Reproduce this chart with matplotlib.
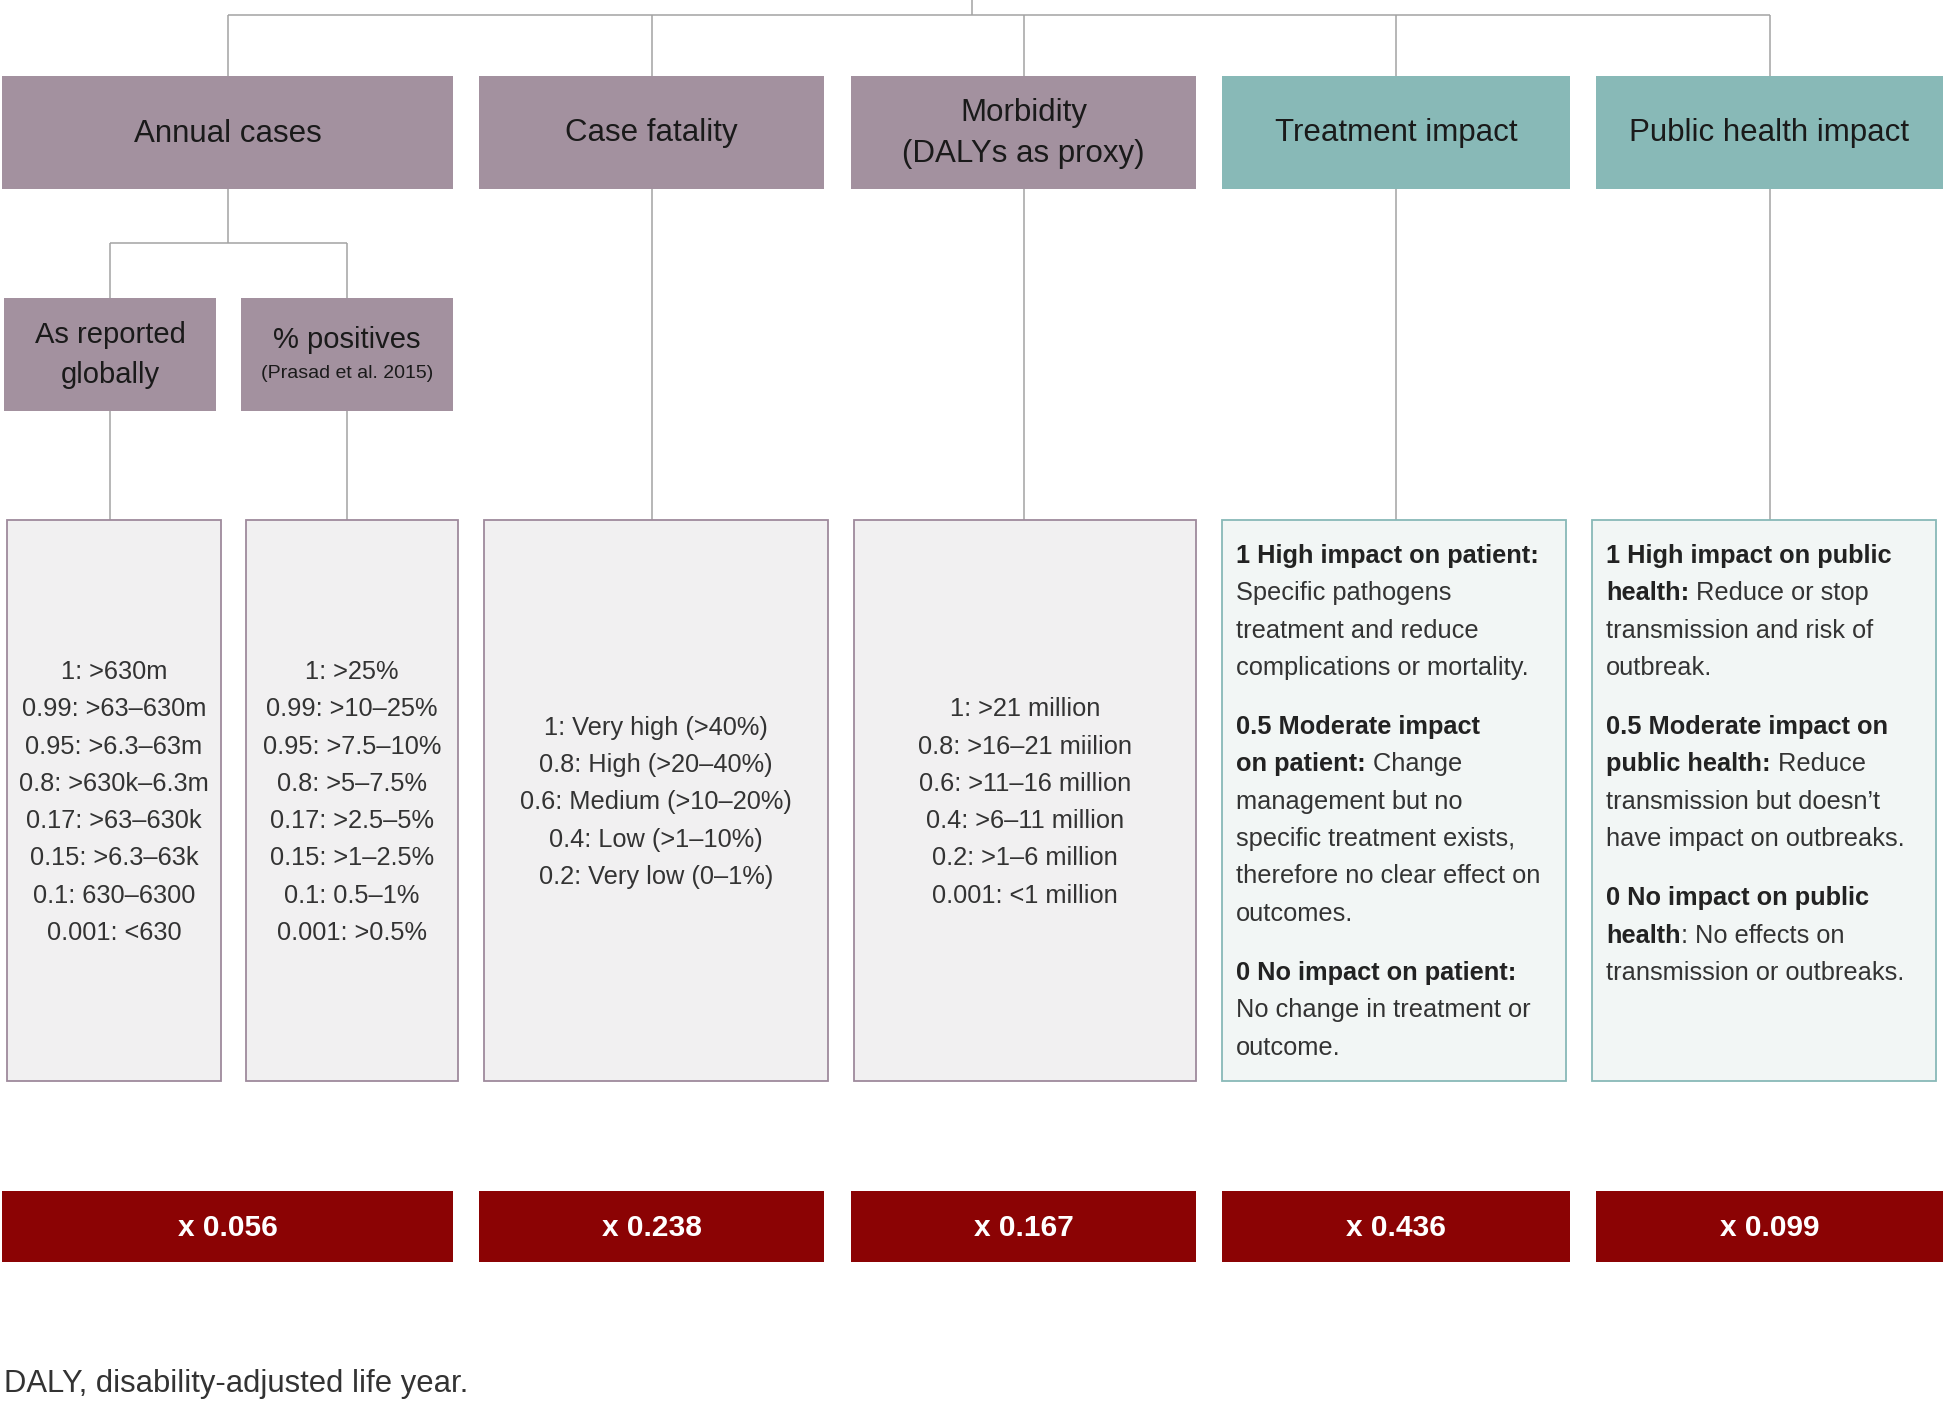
import matplotlib
matplotlib.use("Agg")
from matplotlib import pyplot as plt
from matplotlib.patches import Rectangle

# ---- data ----
headers = ["Annual cases", "Case fatality", "Morbidity\n(DALYs as proxy)",
           "Treatment impact", "Public health impact"]
header_kind = ["purple", "purple", "purple", "teal", "teal"]
sub_headers = ["As reported\nglobally", "% positives"]
sub_note = "(Prasad et al. 2015)"
weights = [0.056, 0.238, 0.167, 0.436, 0.099]

reported_scores = ["1: >630m", "0.99: >63\u2013630m", "0.95: >6.3\u201363m",
                   "0.8: >630k\u20136.3m", "0.17: >63\u2013630k", "0.15: >6.3\u201363k",
                   "0.1: 630\u20136300", "0.001: <630"]
positives_scores = ["1: >25%", "0.99: >10\u201325%", "0.95: >7.5\u201310%", "0.8: >5\u20137.5%",
                    "0.17: >2.5\u20135%", "0.15: >1\u20132.5%", "0.1: 0.5\u20131%", "0.001: >0.5%"]
fatality_scores = ["1: Very high (>40%)", "0.8: High (>20\u201340%)", "0.6: Medium (>10\u201320%)",
                   "0.4: Low (>1\u201310%)", "0.2: Very low (0\u20131%)"]
morbidity_scores = ["1: >21 million", "0.8: >16\u201321 miilion", "0.6: >11\u201316 million",
                    "0.4: >6\u201311 million", "0.2: >1\u20136 million", "0.001: <1 million"]

# each paragraph: list of lines, each line: list of (text, bold)
treatment_text = [
    [[("1 High impact on patient:", True)],
     [("Specific pathogens", False)],
     [("treatment and reduce", False)],
     [("complications or mortality.", False)]],
    [[("0.5 Moderate impact", True)],
     [("on patient:", True), (" Change", False)],
     [("management but no", False)],
     [("specific treatment exists,", False)],
     [("therefore no clear effect on", False)],
     [("outcomes.", False)]],
    [[("0 No impact on patient:", True)],
     [("No change in treatment or", False)],
     [("outcome.", False)]],
]
public_text = [
    [[("1 High impact on public", True)],
     [("health:", True), (" Reduce or stop", False)],
     [("transmission and risk of", False)],
     [("outbreak.", False)]],
    [[("0.5 Moderate impact on", True)],
     [("public health:", True), (" Reduce", False)],
     [("transmission but doesn\u2019t", False)],
     [("have impact on outbreaks.", False)]],
    [[("0 No impact on public", True)],
     [("health", True), (": No effects on", False)],
     [("transmission or outbreaks.", False)]],
]
footnote = "DALY, disability-adjusted life year."

# ---- style ----
fam = ["Liberation Sans", "DejaVu Sans"]

fill = {"purple": "#a3919f", "teal": "#88b9b7"}
box_fill = {"purple": "#f1f0f1", "teal": "#f2f6f5"}
box_edge = {"purple": "#9e8a9c", "teal": "#88b9b7"}
line_c = "#a3a3a3"
red = "#8b0304"

W, H = 1946, 1405
fig = plt.figure(figsize=(W / 100, H / 100), dpi=100)
ax = fig.add_axes([0, 0, 1, 1])
ax.set_xlim(0, W)
ax.set_ylim(H, 0)
ax.axis("off")

cols = [(2, 453), (479, 824), (851, 1196), (1222, 1570), (1596, 1943)]
head_y = (76, 189)
red_y = (1191, 1262)
sub_cols = [(4, 216), (241, 453)]
sub_y = (298, 411)
det_cols = [(7, 221), (246, 458), (484, 828), (854, 1196), (1222, 1566), (1592, 1936)]
det_y = (520, 1081)
det_kind = ["purple"] * 4 + ["teal"] * 2


def line(xs, ys):
    ax.plot(xs, ys, color=line_c, lw=1.1, solid_capstyle="butt", zorder=1)


centers = [(a + b) / 2 for a, b in cols]
# tree connectors
line([972, 972], [0, 15])
line([centers[0], centers[-1]], [15, 15])
for c in centers:
    line([c, c], [15, head_y[0]])
for c in centers[1:]:
    line([c, c], [head_y[1], det_y[0]])
sub_c = [(a + b) / 2 for a, b in sub_cols]
line([centers[0], centers[0]], [head_y[1], 243])
line([sub_c[0], sub_c[1]], [243, 243])
for c in sub_c:
    line([c, c], [243, sub_y[0]])
    line([c, c], [sub_y[1], det_y[0]])

# header boxes
for (a, b), name, kind in zip(cols, headers, header_kind):
    ax.add_patch(Rectangle((a, head_y[0]), b - a, head_y[1] - head_y[0],
                           facecolor=fill[kind], edgecolor="none", zorder=2))
    ax.text((a + b) / 2, (head_y[0] + head_y[1]) / 2 + 1, name, ha="center", va="center",
            fontsize=22.5, family=fam, color="#1a1a1a", linespacing=1.45, zorder=3)

# sub boxes
for (a, b), name in zip(sub_cols, sub_headers):
    ax.add_patch(Rectangle((a, sub_y[0]), b - a, sub_y[1] - sub_y[0],
                           facecolor=fill["purple"], edgecolor="none", zorder=2))
ax.text(sub_c[0], 355, sub_headers[0], ha="center", va="center", fontsize=21,
        family=fam, color="#1a1a1a", linespacing=1.55, zorder=3)
ax.text(sub_c[1], 340, sub_headers[1], ha="center", va="center", fontsize=21,
        family=fam, color="#1a1a1a", zorder=3)
ax.text(sub_c[1], 373, sub_note, ha="center", va="center", fontsize=14,
        family=fam, color="#1a1a1a", zorder=3)

# detail boxes
for (a, b), kind in zip(det_cols, det_kind):
    ax.add_patch(Rectangle((a, det_y[0]), b - a, det_y[1] - det_y[0],
                           facecolor=box_fill[kind], edgecolor=box_edge[kind],
                           lw=1.3, zorder=2))

step = 37.3
fs = 18.3
for (a, b), items in zip(det_cols[:4], [reported_scores, positives_scores,
                                          fatality_scores, morbidity_scores]):
    mid = (det_y[0] + det_y[1]) / 2 + 2
    y0 = mid - step * (len(items) - 1) / 2
    for i, s in enumerate(items):
        ax.text((a + b) / 2, y0 + i * step, s, ha="center", va="center",
                fontsize=fs, family=fam, color="#333333", zorder=3)

renderer = fig.canvas.get_renderer()
inv = ax.transData.inverted()


def rich(x, y_base, segs):
    for txt, bold in segs:
        t = ax.text(x, y_base, txt, ha="left", va="baseline", fontsize=fs, family=fam,
                    fontweight="bold" if bold else "normal",
                    color="#222222" if bold else "#333333", zorder=3)
        bb = t.get_window_extent(renderer=renderer)
        x = inv.transform((bb.x1, bb.y0))[0]


for (a, b), paras in zip(det_cols[4:], [treatment_text, public_text]):
    y = 563
    for para in paras:
        for segs in para:
            rich(a + 14, y, segs)
            y += step
        y += 22

# weight boxes
for (a, b), w in zip(cols, weights):
    ax.add_patch(Rectangle((a, red_y[0]), b - a, red_y[1] - red_y[0],
                           facecolor=red, edgecolor="none", zorder=2))
    ax.text((a + b) / 2, (red_y[0] + red_y[1]) / 2 + 1, f"x {w:.3f}", ha="center",
            va="center", fontsize=21.5, fontweight="bold", family=fam, color="white", zorder=3)

ax.text(4, 1384, footnote, ha="left", va="center", fontsize=22.3,
        family=fam, color="#333333")

fig.savefig("out.png", dpi=100)
